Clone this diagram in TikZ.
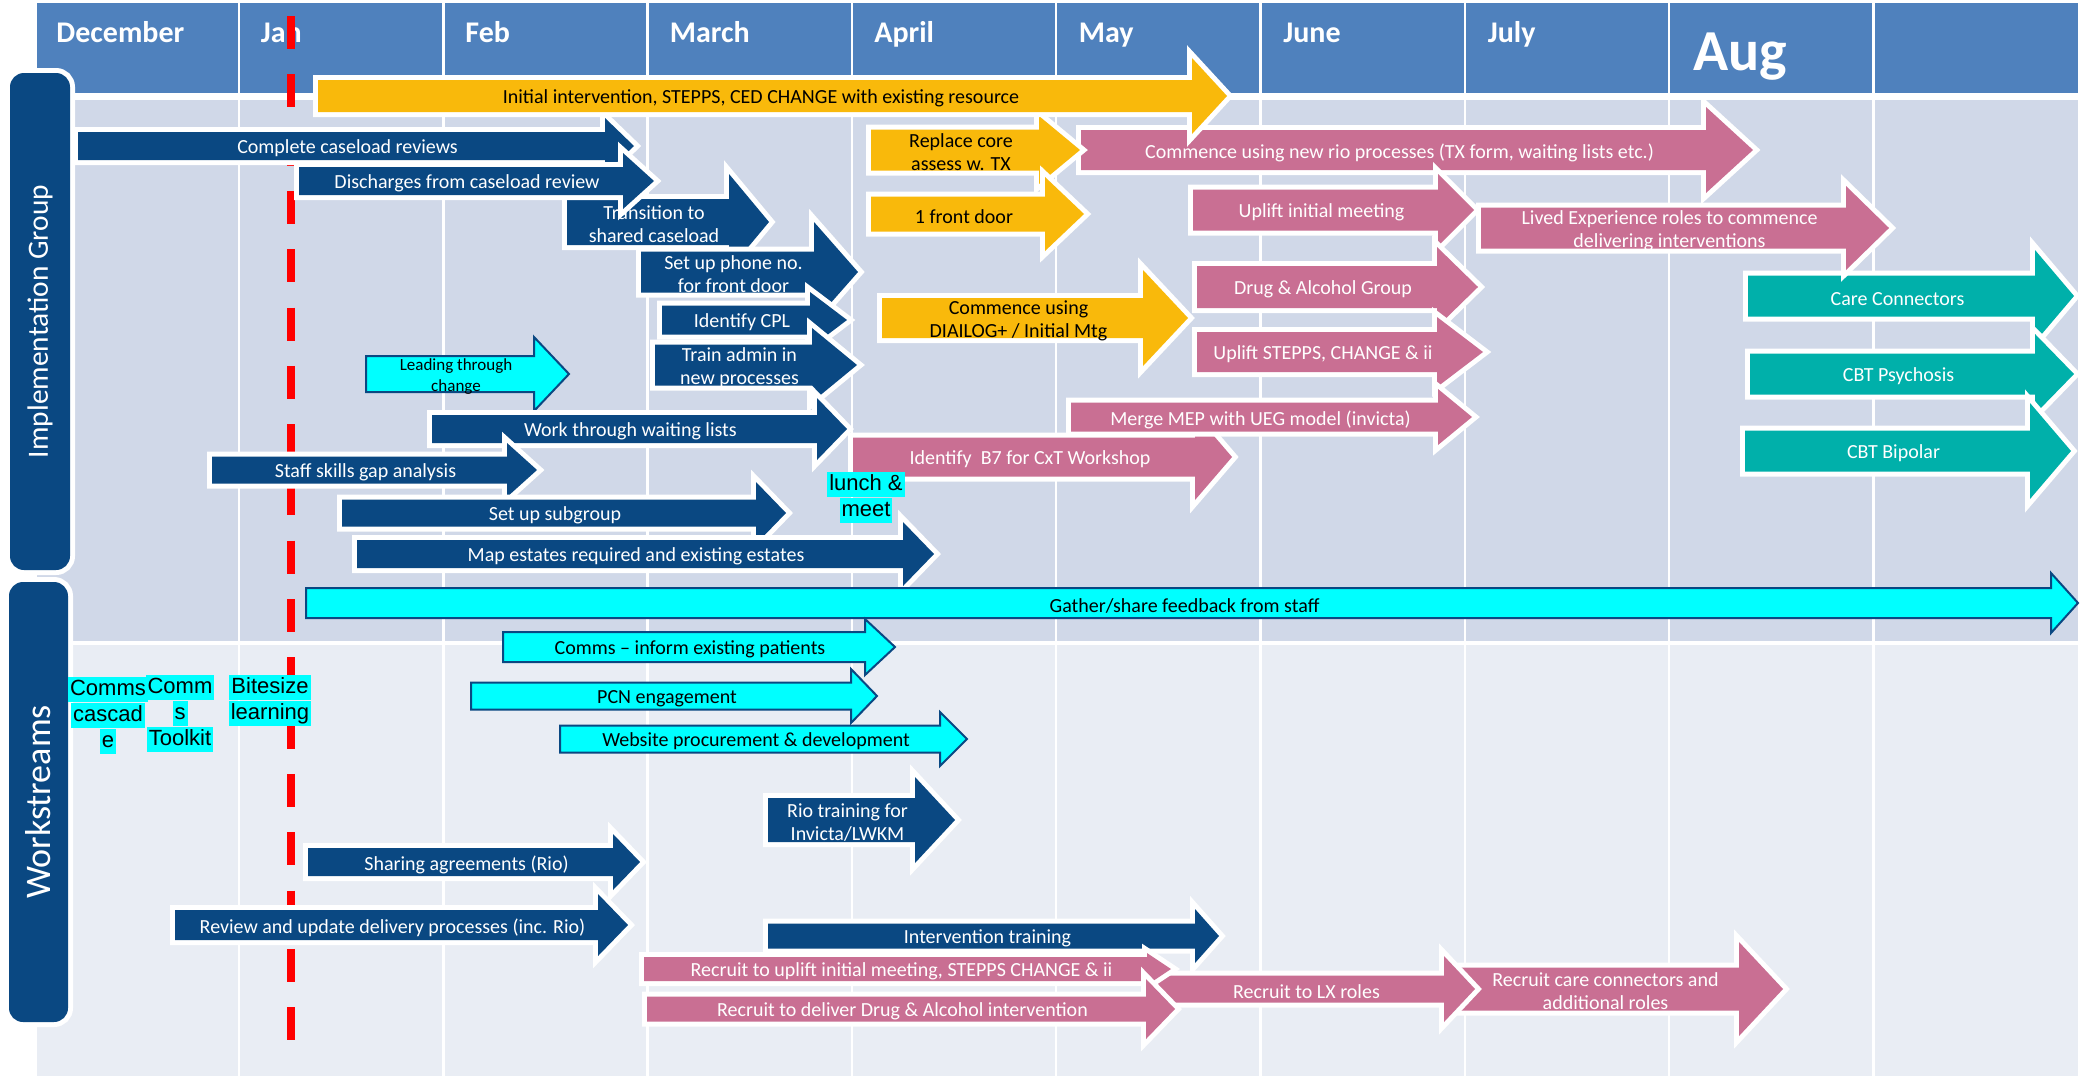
\documentclass[tikz,border=0pt]{standalone}
\usepackage{fontspec}
\setmainfont{Carlito}
\newfontfamily\notefont{Liberation Sans}
\usepackage{tikz}
\usetikzlibrary{positioning}

\definecolor{headblue}{HTML}{4F81BD}
\definecolor{upperbg}{HTML}{D0D8E8}
\definecolor{lowerbg}{HTML}{E9EDF4}
\definecolor{navyfill}{HTML}{0A4882}
\definecolor{pinkfill}{HTML}{C96F93}
\definecolor{goldfill}{HTML}{F9B90B}
\definecolor{tealfill}{HTML}{00B0AA}
\definecolor{cyanfill}{HTML}{00FFFF}

% block arrow: style, name, tail x, head base x, tip x, centre y, half body, half head, label
\newcommand{\blockarrow}[9]{%
  \path[#1] (#3,#6-#7) -- (#4,#6-#7) -- (#4,#6-#8) -- (#5,#6)
    -- (#4,#6+#8) -- (#4,#6+#7) -- (#3,#6+#7) -- cycle;
  \node[#1 text] (#2) at ({(#3+#4)/2+6},#6) {#9};
}

\begin{document}
\begin{tikzpicture}[
    x=0.5pt, y=-0.5pt,
    font=\fontsize{10}{11.5}\selectfont,
    bar/.style={preaction={draw=white, line width=5pt}},
    lbl/.style={align=center, inner sep=0pt, yshift=-1.3pt},
    navybar/.style={bar, fill=navyfill},
    navybar text/.style={lbl, text=white},
    pinkbar/.style={bar, fill=pinkfill},
    pinkbar text/.style={lbl, text=white},
    tealbar/.style={bar, fill=tealfill},
    tealbar text/.style={lbl, text=white},
    goldbar/.style={bar, fill=goldfill},
    goldbar text/.style={lbl, text=black},
    cyanbar/.style={fill=cyanfill, draw=navyfill, line width=1pt},
    cyanbar text/.style={lbl, text=black},
    leadbar/.style={cyanbar},
    leadbar text/.style={cyanbar text, font=\fontsize{8.5}{10.5}\selectfont},
    month/.style={anchor=base west, inner sep=0pt, text=white, font=\bfseries\fontsize{15}{18}\selectfont},
    divider/.style={draw=white, line width=1.25pt},
    sidebox/.style={fill=navyfill, text=white, rounded corners=7pt, rotate=90, inner sep=0pt,
        preaction={draw=white, line width=5pt}},
    redline/.style={draw=red, line width=4.3pt, dash pattern=on 16.5pt off 12.65pt},
    note/.style={fill=cyanfill, text=black, font=\notefont\fontsize{11}{12.5}\selectfont,
        inner xsep=1pt, inner ysep=0pt, text height=9.3pt, text depth=3.2pt}
]
    \useasboundingbox (0,0) rectangle (2080,1076);

    % month header and the two bands
    \fill[headblue] (37,3) rectangle (2078,93);
    \fill[upperbg] (37,100) rectangle (2078,641);
    \fill[lowerbg] (37,645) rectangle (2078,1076);
    \foreach \k in {0,...,8}
        \draw[divider] (239+204.3*\k,3) -- (239+204.3*\k,1076);
    \foreach \m [count=\i from 0] in {December,Jan,Feb,March,April,May,June,July}
        \node[month] (month\i) at (56+204.5*\i,42) {\m};
    \node[month, font=\bfseries\fontsize{29}{34}\selectfont] (month8) at (1693,70) {Aug};

    % side labels
    \node[sidebox, minimum width=248.5pt, minimum height=30pt, font=\fontsize{14.7}{17}\selectfont]
        (implgroup) at (40,321.5) {Implementation Group};
    \node[sidebox, minimum width=220pt, minimum height=29.5pt, font=\fontsize{18}{21}\selectfont]
        (workstreams) at (38.5,802) {Workstreams};

    % today line
    \draw[redline] (291,16) -- (291,1040);

    % Implementation group
    \blockarrow{navybar}{caseload}{78}{605}{634}{146}{14}{28}{Complete caseload reviews}
    \blockarrow{navybar}{transition}{567}{729}{769}{222}{23}{48}{Transition to\\shared caseload}
    \blockarrow{navybar}{discharges}{299}{623}{654}{181}{14}{28}{Discharges from caseload review}
    \blockarrow{navybar}{phone}{641}{814}{858}{272}{20.5}{50}{Set up phone no.\\for front door}
    \blockarrow{navybar}{cpl}{662}{810}{847}{320}{14.5}{28}{Identify CPL}
    \blockarrow{navybar}{trainadmin}{655}{812}{857}{365}{20.5}{37}{Train admin in\\new processes}
    \blockarrow{leadbar}{leading}{366}{534}{569}{374}{18}{37}{Leading through\\change}
    \blockarrow{navybar}{waiting}{432}{817}{847}{429}{14}{31}{Work through waiting lists}
    \blockarrow{navybar}{skills}{212}{507}{537}{470}{13.5}{27}{Staff skills gap analysis}
    \blockarrow{navybar}{subgroup}{342}{756}{786}{513}{13.5}{31}{Set up subgroup}
    \blockarrow{navybar}{estates}{357}{903}{934}{554}{14}{32}{Map estates required and existing estates}

    \blockarrow{pinkbar}{riocommence}{1081}{1706}{1753}{150}{20}{43}{Commence using new rio processes (TX form, waiting lists etc.)}
    \blockarrow{goldbar}{replace}{871}{1039}{1080}{150}{20.5}{34}{Replace core\\assess w. TX}
    \blockarrow{goldbar}{frontdoor}{871}{1045}{1084}{214}{17.5}{37}{1 front door}
    \blockarrow{goldbar}{dialog}{882}{1143}{1188}{318}{20}{48}{Commence using\\DIAILOG+ / Initial Mtg}
    \blockarrow{goldbar}{initial}{318}{1192}{1227}{96}{16}{38}{Initial intervention, STEPPS, CED CHANGE with existing resource}

    \blockarrow{tealbar}{careconn}{1748}{2035}{2074}{296}{20.5}{46}{Care Connectors}
    \blockarrow{tealbar}{psychosis}{1750}{2035}{2074}{374}{20.5}{40}{CBT Psychosis}
    \blockarrow{tealbar}{bipolar}{1745}{2030}{2071}{451}{20.5}{48}{CBT Bipolar}
    \blockarrow{pinkbar}{uplift}{1193}{1438}{1474}{210}{20.5}{36}{Uplift initial meeting}
    \blockarrow{pinkbar}{lived}{1481}{1846}{1889}{228}{20.5}{42}{Lived Experience roles to commence\\delivering interventions}
    \blockarrow{pinkbar}{drug}{1197}{1437}{1478}{287}{21}{40}{Drug \& Alcohol Group}
    \blockarrow{pinkbar}{upliftstepps}{1197}{1437}{1483}{352}{20}{35}{Uplift STEPPS, CHANGE \& ii}
    \blockarrow{pinkbar}{workshop}{853}{1195}{1232}{457}{19.5}{43}{Identify\ \ B7 for CxT Workshop}
    \blockarrow{pinkbar}{merge}{1071}{1438}{1472}{417}{14.5}{28}{Merge MEP with UEG model (invicta)}

    \blockarrow{cyanbar}{feedback}{306}{2051}{2078}{603}{15}{30}{Gather/share feedback from staff}

    % Workstreams
    \blockarrow{cyanbar}{comms}{503}{865}{895}{647}{15}{28}{Comms – inform existing patients}
    \blockarrow{cyanbar}{pcn}{471}{851}{877}{696}{13.5}{27}{PCN engagement}
    \blockarrow{cyanbar}{website}{560}{940}{967}{739}{13.5}{27}{Website procurement \& development}
    \blockarrow{navybar}{riotraining}{768}{915}{955}{820}{22}{43}{Rio training for\\Invicta/LWKM}
    \blockarrow{navybar}{sharing}{308}{613}{640}{862}{14}{28}{Sharing agreements (Rio)}
    \blockarrow{navybar}{review}{175}{598}{628}{925}{15}{31}{Review and update delivery processes (inc. Rio)}
    \blockarrow{navybar}{intervention}{768}{1195}{1219}{936}{12.5}{27}{Intervention training}
    \blockarrow{pinkbar}{carerecruit}{1460}{1739}{1783}{989}{21.5}{47}{Recruit care connectors and\\additional roles}
    \blockarrow{pinkbar}{lxroles}{1157}{1444}{1475}{989}{13.5}{33}{Recruit to LX roles}
    \blockarrow{pinkbar}{recruituplift}{644}{1147}{1171}{969}{12}{16}{Recruit to uplift initial meeting, STEPPS CHANGE \& ii}
    \blockarrow{pinkbar}{recruitdrug}{647}{1146}{1175}{1009}{12.5}{30}{Recruit to deliver Drug \& Alcohol intervention}

    % highlighted notes
    \node[note] (toolkit1) at (180,687.5) {Comm};
    \node[note, below=0pt of toolkit1] (toolkit2) {s};
    \node[note, below=0pt of toolkit2] (toolkit3) {Toolkit};
    \node[note] (cascade1) at (108,689.5) {Comms};
    \node[note, below=0pt of cascade1] (cascade2) {cascad};
    \node[note, below=0pt of cascade2] (cascade3) {e};
    \node[note] (bitesize1) at (270,687.5) {Bitesize};
    \node[note, below=0pt of bitesize1] (bitesize2) {learning};
    \node[note] (lunch1) at (866,484.5) {lunch \&};
    \node[note, below=0pt of lunch1] (lunch2) {meet};
\end{tikzpicture}
\end{document}
